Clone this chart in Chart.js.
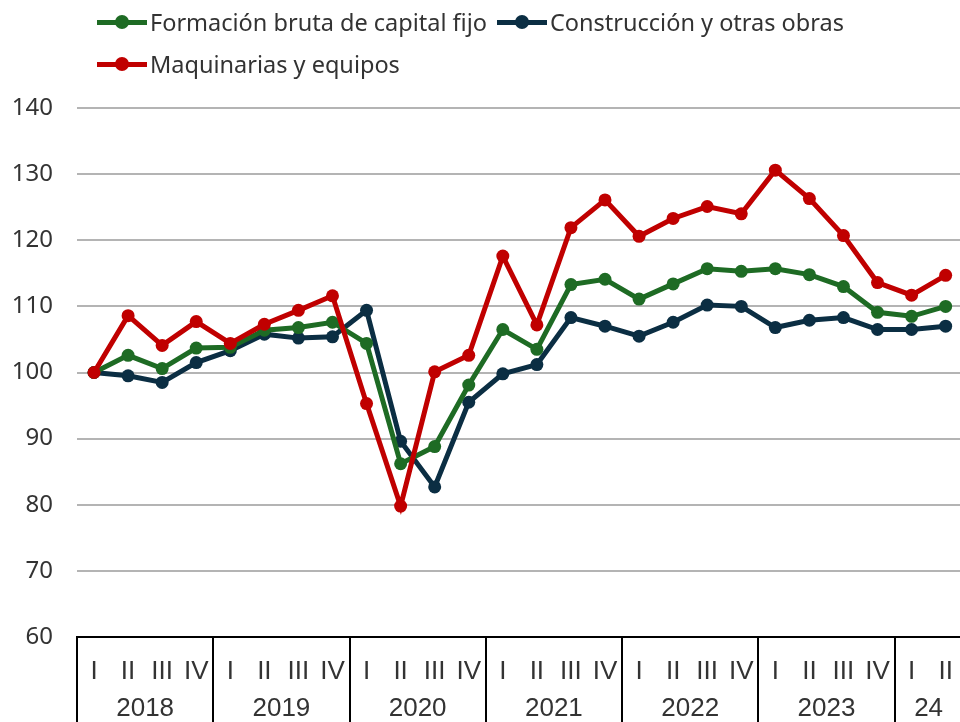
<!DOCTYPE html>
<html lang="es">
<head>
<meta charset="utf-8">
<title>Formación bruta de capital fijo</title>
<script src="https://cdn.jsdelivr.net/npm/chart.js@4.4.1/dist/chart.umd.min.js"></script>
<style>
    html, body { margin: 0; padding: 0; background: #fff; overflow: hidden; }
    #wrap { position: relative; width: 972px; height: 722px; }
    #leyenda {
        position: absolute; left: 97px; top: 4px; width: 800px;
        display: flex; flex-wrap: wrap; row-gap: 6px;
        font-family: "Noto Sans", sans-serif; font-size: 23.5px; color: #333;
    }
    .item { display: flex; align-items: center; height: 36px; }
    .item:first-child { width: 400px; }
    .marca { position: relative; width: 50px; height: 5px; margin-right: 3px; }
    .marca span { position: absolute; left: 18px; top: -4.5px; width: 14px; height: 14px; border-radius: 50%; }
</style>
</head>
<body>
<div id="wrap">
    <canvas id="grafico" width="972" height="722"></canvas>
    <div id="leyenda"></div>
</div>
<script>
// Trimestres y años (eje X en dos niveles)
const trimestres = ['I', 'II', 'III', 'IV', 'I', 'II', 'III', 'IV', 'I', 'II', 'III', 'IV',
    'I', 'II', 'III', 'IV', 'I', 'II', 'III', 'IV', 'I', 'II', 'III', 'IV', 'I', 'II'];
const anios = ['2018', '2019', '2020', '2021', '2022', '2023', '24'];
const trimestresPorAnio = [4, 4, 4, 4, 4, 4, 2];

// Eje Y
const yMin = 60;
const yMax = 140;
const yPaso = 10;

// Series (índice, 2018-I = 100)
const formacionBruta = [100, 102.6, 100.6, 103.7, 103.8, 106.4, 106.8, 107.6,
    104.4, 86.2, 88.8, 98.1, 106.5, 103.5, 113.3, 114.1,
    111.1, 113.4, 115.7, 115.3, 115.7, 114.8, 113.0, 109.1, 108.5, 110.0];
const construccion = [100, 99.5, 98.5, 101.5, 103.3, 105.8, 105.2, 105.4,
    109.4, 89.6, 82.7, 95.5, 99.8, 101.2, 108.3, 107.0,
    105.5, 107.6, 110.2, 110.0, 106.8, 107.9, 108.3, 106.5, 106.5, 107.0];
const maquinarias = [100, 108.6, 104.1, 107.7, 104.4, 107.3, 109.4, 111.6,
    95.3, 79.8, 100.1, 102.6, 117.6, 107.2, 121.9, 126.1,
    120.6, 123.3, 125.1, 124.0, 130.6, 126.3, 120.7, 113.6, 111.7, 114.7];

const series = [
    { label: 'Formación bruta de capital fijo', data: formacionBruta, color: '#1e6b24', orden: 1 },
    { label: 'Construcción y otras obras', data: construccion, color: '#0b2e43', orden: 2 },
    { label: 'Maquinarias y equipos', data: maquinarias, color: '#c00000', orden: 0 }
];

const fuenteEje = '"Liberation Sans", Arial, sans-serif';

// Leyenda en HTML
const leyenda = document.getElementById('leyenda');
series.forEach(s => {
    const item = document.createElement('div');
    item.className = 'item';
    item.innerHTML = '<div class="marca" style="background:' + s.color + '"><span style="background:' +
        s.color + '"></span></div><div>' + s.label + '</div>';
    leyenda.appendChild(item);
});

// Plugin: años y separadores bajo el eje X
const ejeAnios = {
    id: 'ejeAnios',
    afterDraw(chart) {
        const ctx = chart.ctx;
        const x = chart.scales.x;
        const area = chart.chartArea;
        const ancho = x.getPixelForValue(1) - x.getPixelForValue(0);
        let inicio = 0;
        ctx.save();
        ctx.strokeStyle = '#000';
        ctx.lineWidth = 2;
        ctx.fillStyle = '#333';
        ctx.font = '26px ' + fuenteEje;
        ctx.textAlign = 'center';
        ctx.textBaseline = 'middle';
        anios.forEach((anio, i) => {
            const n = trimestresPorAnio[i];
            const izq = x.getPixelForValue(inicio) - ancho / 2;
            const der = x.getPixelForValue(inicio + n - 1) + ancho / 2;
            ctx.beginPath();
            ctx.moveTo(Math.round(izq), area.bottom);
            ctx.lineTo(Math.round(izq), chart.height);
            ctx.stroke();
            ctx.fillText(anio, (izq + der) / 2, 709);
            inicio += n;
        });
        ctx.restore();
    }
};

new Chart(document.getElementById('grafico'), {
    type: 'line',
    data: {
        labels: trimestres,
        datasets: series.map(s => ({
            label: s.label,
            data: s.data,
            borderColor: s.color,
            backgroundColor: s.color,
            borderWidth: 5,
            pointRadius: 6.5,
            pointHoverRadius: 6.5,
            pointBackgroundColor: s.color,
            pointBorderWidth: 0,
            tension: 0,
            order: s.orden
        }))
    },
    options: {
        responsive: false,
        animation: false,
        layout: { padding: { top: 108, left: 0, right: 0, bottom: 0 } },
        plugins: {
            legend: { display: false },
            tooltip: { enabled: false }
        },
        scales: {
            x: {
                offset: true,
                grid: { display: false, drawTicks: false },
                border: { display: true, color: '#000', width: 2 },
                ticks: {
                    autoSkip: false,
                    maxRotation: 0,
                    padding: 19,
                    color: '#333',
                    font: { family: fuenteEje, size: 26 }
                },
                afterFit: scale => { scale.height = 85; }
            },
            y: {
                min: yMin,
                max: yMax,
                ticks: {
                    stepSize: yPaso,
                    padding: 24,
                    color: '#333',
                    font: { family: '"Noto Sans", sans-serif', size: 24 }
                },
                grid: { color: '#b4b4b4', lineWidth: 2, drawTicks: false },
                border: { display: false },
                afterFit: scale => { scale.width = 77; }
            }
        }
    },
    plugins: [ejeAnios]
});
</script>
</body>
</html>
